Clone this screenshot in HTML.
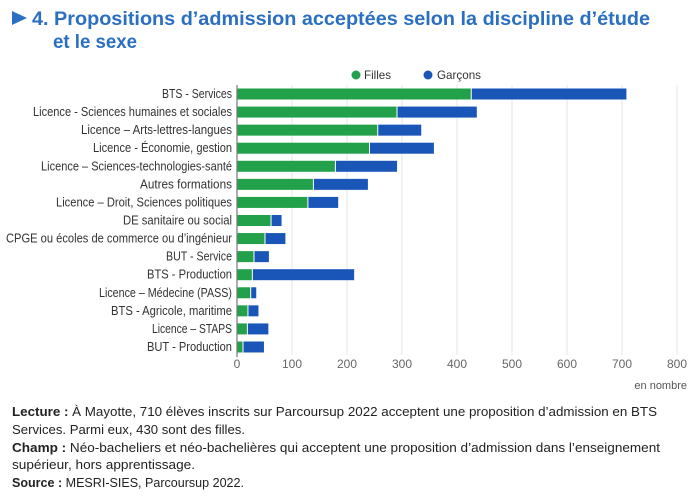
<!DOCTYPE html>
<html><head><meta charset="utf-8"><style>
html,body{margin:0;padding:0;background:#fff;}
svg{display:block;font-family:"Liberation Sans",sans-serif;}
</style></head><body>
<svg width="696" height="499" viewBox="0 0 696 499" xmlns="http://www.w3.org/2000/svg">
<polygon points="12,11 12,25 27,18" fill="#2a6fc1"/>
<text x="32" y="25" font-size="19" font-weight="bold" fill="#2a6fc1" textLength="618" lengthAdjust="spacingAndGlyphs">4. Propositions d’admission acceptées selon la discipline d’étude</text>
<text x="53" y="48" font-size="19" font-weight="bold" fill="#2a6fc1" textLength="84" lengthAdjust="spacingAndGlyphs">et le sexe</text>
<circle cx="356" cy="75" r="4.5" fill="#22a04a"/>
<text x="364" y="79" font-size="12" fill="#333" textLength="27" lengthAdjust="spacingAndGlyphs">Filles</text>
<circle cx="428" cy="75" r="4.5" fill="#1a56b8"/>
<text x="437" y="79" font-size="12" fill="#333" textLength="44" lengthAdjust="spacingAndGlyphs">Garçons</text>
<g stroke="#e6e6e6" stroke-width="1">
<line x1="292" y1="85" x2="292" y2="355"/><line x1="347" y1="85" x2="347" y2="355"/>
<line x1="402" y1="85" x2="402" y2="355"/><line x1="457" y1="85" x2="457" y2="355"/>
<line x1="512" y1="85" x2="512" y2="355"/><line x1="567" y1="85" x2="567" y2="355"/>
<line x1="622" y1="85" x2="622" y2="355"/><line x1="677" y1="85" x2="677" y2="355"/>
</g>
<g id="bars"></g>
<line x1="237" y1="85" x2="237" y2="357" stroke="#777" stroke-width="1.2"/>
<g font-size="12" fill="#666" text-anchor="middle">
<text x="237" y="368">0</text><text x="292" y="368">100</text><text x="347" y="368">200</text>
<text x="402" y="368">300</text><text x="457" y="368">400</text><text x="512" y="368">500</text>
<text x="567" y="368">600</text><text x="622" y="368">700</text><text x="677" y="368">800</text>
</g>
<text x="687" y="389" font-size="11" fill="#555" text-anchor="end">en nombre</text>
<g font-size="13" fill="#222">
<text x="12" y="416" textLength="645" lengthAdjust="spacingAndGlyphs"><tspan font-weight="bold">Lecture :</tspan> À Mayotte, 710 élèves inscrits sur Parcoursup 2022 acceptent une proposition d’admission en BTS</text>
<text x="12" y="434" textLength="233" lengthAdjust="spacingAndGlyphs">Services. Parmi eux, 430 sont des filles.</text>
<text x="12" y="452" textLength="648" lengthAdjust="spacingAndGlyphs"><tspan font-weight="bold">Champ :</tspan> Néo-bacheliers et néo-bachelières qui acceptent une proposition d’admission dans l’enseignement</text>
<text x="12" y="469" textLength="183" lengthAdjust="spacingAndGlyphs">supérieur, hors apprentissage.</text>
<text x="12" y="487" textLength="232" lengthAdjust="spacingAndGlyphs"><tspan font-weight="bold">Source :</tspan> MESRI-SIES, Parcoursup 2022.</text>
</g>
<g id="labels"></g>
<script>
var d=[["BTS - Services",425,708,162],["Licence - Sciences humaines et sociales",290,436,33],["Licence – Arts-lettres-langues",255,335,81],["Licence - Économie, gestion",240,358,93],["Licence – Sciences-technologies-santé",178,291,41],["Autres formations",138,238,140],["Licence – Droit, Sciences politiques",128,184,56],["DE sanitaire ou social",61,81,123],["CPGE ou écoles de commerce ou d’ingénieur",50,88,6],["BUT - Service",30,58,166],["BTS - Production",27,213,147],["Licence – Médecine (PASS)",24,35,99],["BTS - Agricole, maritime",19,39,111],["Licence – STAPS",18,57,152],["BUT - Production",10,49,147]];
var ns="http://www.w3.org/2000/svg",b=document.getElementById("bars"),l=document.getElementById("labels");
function el(t,a,p){var e=document.createElementNS(ns,t);for(var k in a)e.setAttribute(k,a[k]);p.appendChild(e);return e;}
d.forEach(function(r,i){var cy=94+i*18.07,s=0.55,x0=237;
el("rect",{x:x0,y:cy-5.5,width:r[1]*s,height:11,fill:"#22a04a"},b);
el("rect",{x:x0+r[1]*s+1,y:cy-5.5,width:(r[2]-r[1])*s-1,height:11,fill:"#1a56b8"},b);
var t=el("text",{x:r[3],y:cy+4,"font-size":"12.5",fill:"#333",textLength:232-r[3],lengthAdjust:"spacingAndGlyphs"},l);t.textContent=r[0];});
</script>
</svg>
</body></html>
